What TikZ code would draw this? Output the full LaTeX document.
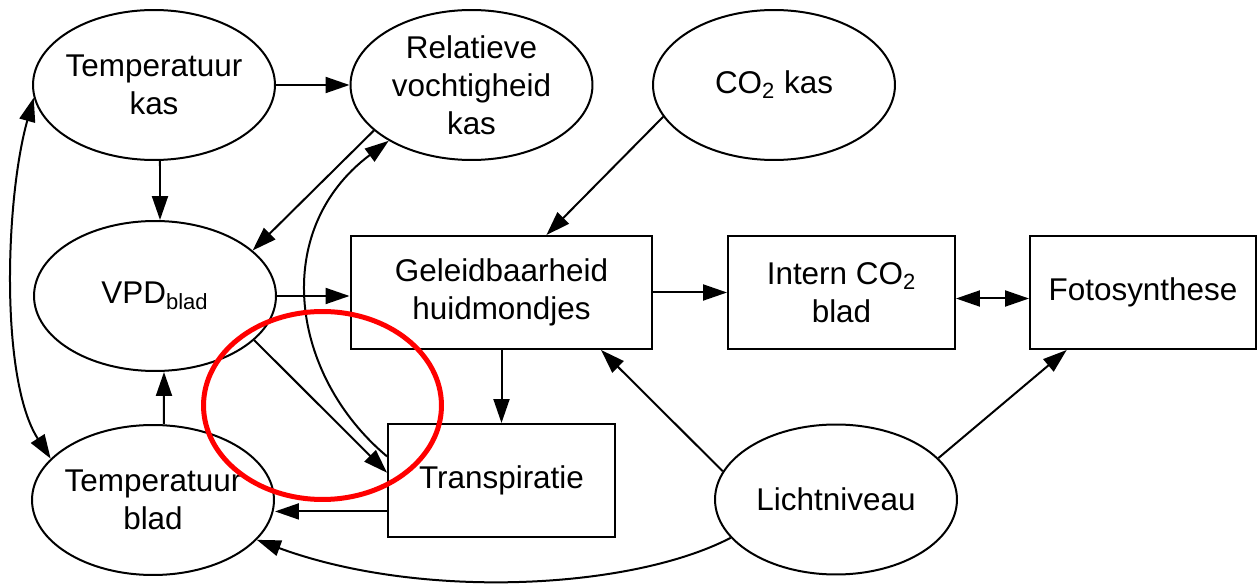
\documentclass[tikz,border=0pt]{standalone}
\usepackage{fontspec}
\setmainfont{Liberation Sans}
\usetikzlibrary{arrows.meta,shapes.geometric}
\begin{document}
\begin{tikzpicture}[x=0.02cm,y=-0.02cm,
  every node/.style={font=\fontsize{17.9}{21.5}\selectfont, align=center},
  ell/.style={draw, ellipse, line width=0.04cm, inner sep=-0.4cm, minimum width=4.84cm, minimum height=3cm},
  box/.style={draw, rectangle, line width=0.04cm, inner sep=0pt, minimum height=2.26cm},
  tip/.tip={Triangle[length=0.48cm,width=0.32cm]},
  arr/.style={line width=0.04cm, -tip},
  darr/.style={line width=0.04cm, tip-tip},
  hl/.style={draw=red, line width=0.1cm}]
\useasboundingbox (0,0) rectangle (1259,584);

% nodes
\node[ell] (tk) at (154,85) {Temperatuur\\kas};
\node[ell] (rv) at (471.5,85) {Relatieve\\vochtigheid\\kas};
\node[ell] (co2) at (774,85) {CO\textsubscript{2} kas};
\node[ell] (vpd) at (155,296) {VPD\textsubscript{blad}};
\node[ell] (tb) at (153,500) {Temperatuur\\blad};
\node[ell] (licht) at (836,499.5) {Lichtniveau};
\node[box, minimum width=6.04cm] (gel) at (501.5,292.5) {Geleidbaarheid\\huidmondjes};
\node[box, minimum width=4.54cm] (icb) at (841.5,292.5) {Intern CO\textsubscript{2}\\blad};
\node[box, minimum width=4.52cm] (foto) at (1143,292.5) {Fotosynthese};
\node[box, minimum width=4.54cm, minimum height=2.27cm] (tr) at (501.5,480.75) {Transpiratie};

% connectors
\draw[arr] (tk.east) -- (rv.west);
\draw[arr] ([xshift=0.12cm]tk.south) -- ([xshift=0.1cm]vpd.north);
\draw[arr] (rv.205.6) -- (vpd.25.1);
\draw[arr] (tr.168.7) .. controls (290,375) and (270,230) .. (rv.214);
\draw[arr] (vpd.east) -- (vpd.east -| gel.west);
\draw[arr] (vpd.336) -- (tr.176.1);
\draw[arr] ([xshift=0.22cm]tb.north) -- ([xshift=0.18cm]vpd.south);
\draw[darr] (tk.186.2) .. controls (5,200) and (0,380) .. (tb.158.6);
\draw[arr] (tr.195.9) -- (tr.195.9 -| tb.east);
\draw[arr] (gel.south) -- (gel.south |- tr.north);
\draw[arr] (co2.196.4) -- (gel.52.4);
\draw[arr] (gel.east) -- (icb.west);
\draw[darr] (icb.357.7) -- (icb.357.7 -| foto.west);
\draw[arr] (licht.166.4) -- (gel.330.2);
\draw[arr] (licht.22.1) -- (foto.217.2);
\draw[arr] (licht.200.3) .. controls (630,590) and (420,600) .. (tb.339.7);

% highlight
\draw[hl] (322.5,405.5) ellipse [x radius=2.38cm, y radius=1.88cm];
\end{tikzpicture}
\end{document}
